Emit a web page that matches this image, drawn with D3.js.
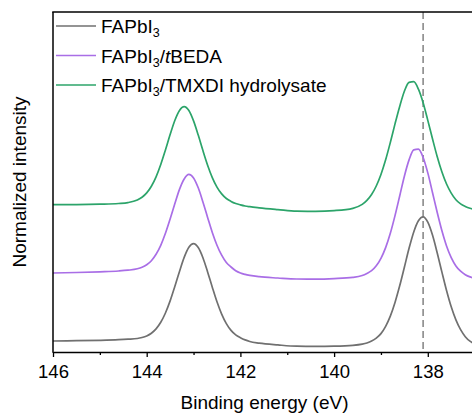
<!DOCTYPE html>
<html>
<head>
<meta charset="utf-8">
<script src="https://cdn.jsdelivr.net/npm/d3@7"></script>
<style>
  html, body { margin: 0; padding: 0; background: #fff; }
  svg { display: block; font-family: "Liberation Sans", Arial, sans-serif; }
</style>
</head>
<body>
<svg id="chart" width="472" height="416"></svg>
<script>
// Binding energy grid (eV), denser around the two Pb 4f peaks
const energies = [146.0, 145.5, 145.0, 144.6, 144.4,
  144.2, 144.1, 144.0, 143.9, 143.8, 143.7, 143.6, 143.5, 143.4, 143.3, 143.2, 143.1, 143.0,
  142.9, 142.8, 142.7, 142.6, 142.5, 142.4, 142.3, 142.2, 142.1, 142.0, 141.9, 141.8,
  141.6, 141.2, 140.8, 140.4, 140.0, 139.6,
  139.4, 139.3, 139.2, 139.1, 139.0, 138.9, 138.8, 138.7, 138.6, 138.5, 138.4, 138.3, 138.2,
  138.1, 138.0, 137.9, 137.8, 137.7, 137.6, 137.5, 137.4, 137.3, 137.2, 137.1, 137.0];

// Normalized intensity, stacked with vertical offsets
const fapbi3 = [0.110, 0.113, 0.117, 0.123, 0.128,
  0.135, 0.145, 0.161, 0.188, 0.231, 0.297, 0.390, 0.511, 0.655, 0.806, 0.946, 1.047, 1.084,
  1.045, 0.943, 0.801, 0.648, 0.502, 0.379, 0.284, 0.216, 0.171, 0.143, 0.121, 0.105,
  0.089, 0.071, 0.058, 0.056, 0.058, 0.066,
  0.078, 0.090, 0.109, 0.139, 0.184, 0.257, 0.359, 0.496, 0.662, 0.848, 1.037, 1.201, 1.313,
  1.352, 1.298, 1.169, 0.993, 0.801, 0.615, 0.452, 0.321, 0.223, 0.153, 0.108, 0.081];

const tbeda = [0.790, 0.795, 0.802, 0.810, 0.818,
  0.832, 0.847, 0.872, 0.913, 0.977, 1.067, 1.187, 1.330, 1.482, 1.626, 1.730, 1.776, 1.741,
  1.642, 1.501, 1.346, 1.196, 1.068, 0.968, 0.895, 0.850, 0.813, 0.790, 0.776, 0.766,
  0.753, 0.740, 0.730, 0.729, 0.734, 0.746,
  0.765, 0.786, 0.813, 0.862, 0.937, 1.044, 1.187, 1.364, 1.560, 1.758, 1.921, 2.021, 2.028,
  1.945, 1.791, 1.595, 1.397, 1.214, 1.060, 0.944, 0.861, 0.808, 0.773, 0.751, 0.738];

const tmxdi = [1.473, 1.474, 1.478, 1.485, 1.494,
  1.520, 1.547, 1.591, 1.658, 1.752, 1.875, 2.020, 2.174, 2.315, 2.416, 2.454, 2.415, 2.311,
  2.169, 2.014, 1.868, 1.744, 1.649, 1.581, 1.535, 1.506, 1.485, 1.471, 1.460, 1.453,
  1.442, 1.424, 1.408, 1.407, 1.414, 1.437,
  1.476, 1.516, 1.575, 1.660, 1.775, 1.922, 2.095, 2.281, 2.456, 2.608, 2.696, 2.703, 2.628,
  2.492, 2.316, 2.132, 1.955, 1.802, 1.680, 1.589, 1.522, 1.481, 1.456, 1.438, 1.426];

const seriesNames = ["FAPbI3", "FAPbI3/tBEDA", "FAPbI3/TMXDI hydrolysate"];
const seriesColors = ["#707070", "#a96ee6", "#2ca46a"];
const majorTicks = [146, 144, 142, 140, 138];
const minorTicks = [145, 143, 141, 139, 137];
const refEnergy = 138.1;

const svg = d3.select("#chart");
const plotLeft = 53, plotTop = 12, plotBottom = 352;

const x = d3.scaleLinear().domain([146, 136]).range([plotLeft, plotLeft + 10 * 46.85]);
const y = d3.scaleLinear().domain([0, 3.4]).range([plotBottom, plotTop]);

svg.append("defs").append("clipPath").attr("id", "plot")
  .append("rect").attr("x", plotLeft).attr("y", plotTop)
  .attr("width", x(136) - plotLeft).attr("height", plotBottom - plotTop);

// reference line at the Pb 4f7/2 position
svg.append("line")
  .attr("x1", x(refEnergy)).attr("x2", x(refEnergy))
  .attr("y1", y(3.4)).attr("y2", y(0))
  .attr("stroke", "#8a8a8a").attr("stroke-width", 1.6)
  .attr("stroke-dasharray", "7,4");

// spectra
const line = d3.line()
  .x((d, i) => x(energies[i]))
  .y(d => y(d))
  .curve(d3.curveMonotoneX);

const g = svg.append("g").attr("clip-path", "url(#plot)");
[fapbi3, tbeda, tmxdi].forEach((s, k) => {
  g.append("path").datum(s)
    .attr("fill", "none")
    .attr("stroke", seriesColors[k])
    .attr("stroke-width", 1.7)
    .attr("stroke-linejoin", "round")
    .attr("d", line);
});

// x axis with labelled major and unlabelled minor ticks
const xAxis = svg.append("g").attr("transform", `translate(0,${plotBottom})`)
  .call(d3.axisBottom(x).tickValues(majorTicks).tickFormat(d3.format("d"))
    .tickSize(5).tickSizeOuter(0).tickPadding(8));
xAxis.select(".domain").attr("stroke", "#000").attr("stroke-width", 1.5);
xAxis.selectAll(".tick line").attr("stroke", "#000").attr("stroke-width", 1.3);
xAxis.selectAll(".tick text").attr("font-size", "18.5px").attr("fill", "#000")
  .attr("font-family", "'Liberation Sans', Arial, sans-serif");

const xMinor = svg.append("g").attr("transform", `translate(0,${plotBottom})`)
  .call(d3.axisBottom(x).tickValues(minorTicks).tickFormat("").tickSize(3).tickSizeOuter(0));
xMinor.select(".domain").remove();
xMinor.selectAll(".tick line").attr("stroke", "#000").attr("stroke-width", 1.3);

// left axis line and top frame
svg.append("line").attr("x1", plotLeft).attr("x2", plotLeft)
  .attr("y1", y(3.4)).attr("y2", y(0) + 0.75)
  .attr("stroke", "#000").attr("stroke-width", 1.5);
svg.append("line").attr("x1", plotLeft - 0.75).attr("x2", x(136))
  .attr("y1", y(3.4)).attr("y2", y(3.4))
  .attr("stroke", "#000").attr("stroke-width", 1.5);

// axis titles
svg.append("text")
  .attr("x", (plotLeft + 472) / 2 + 2).attr("y", 409)
  .attr("text-anchor", "middle").attr("font-size", "19px")
  .text("Binding energy (eV)");
svg.append("text")
  .attr("transform", `translate(26,${(plotTop + plotBottom) / 2}) rotate(-90)`)
  .attr("text-anchor", "middle").attr("font-size", "19px")
  .text("Normalized intensity");

// legend
const legendRows = [26, 55.5, 85];
seriesNames.forEach((name, k) => {
  const ly = legendRows[k];
  svg.append("line").attr("x1", 56).attr("x2", 96)
    .attr("y1", ly).attr("y2", ly)
    .attr("stroke", seriesColors[k]).attr("stroke-width", 1.6);
  const t = svg.append("text").attr("x", 101).attr("y", ly + 7)
    .attr("font-size", "19px").attr("fill", "#000");
  t.append("tspan").text("FAPbI");
  t.append("tspan").attr("font-size", "12.5px").attr("dy", 4).text("3");
  if (k === 1) {
    t.append("tspan").attr("dy", -4).text("/");
    t.append("tspan").attr("font-style", "italic").text("t");
    t.append("tspan").text("BEDA");
  } else if (k === 2) {
    t.append("tspan").attr("dy", -4).text("/TMXDI hydrolysate");
  }
});
</script>
</body>
</html>
